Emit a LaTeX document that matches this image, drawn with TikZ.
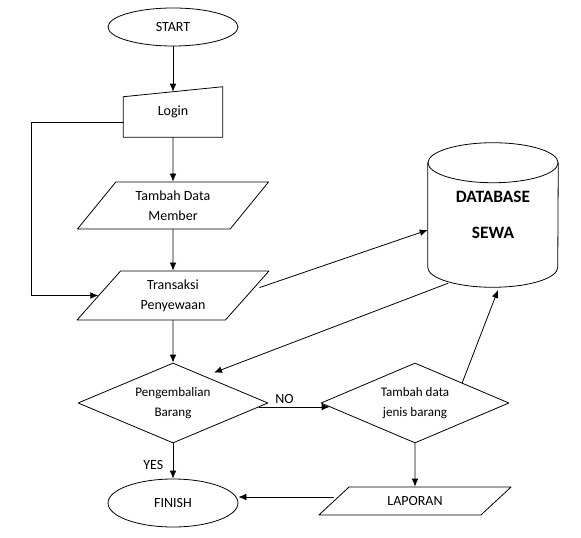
\documentclass[tikz,border=0pt]{standalone}
\usepackage{fontspec}
\setmainfont{Carlito}
\usetikzlibrary{arrows.meta,calc,shapes.geometric}

\begin{document}
\begin{tikzpicture}[>=Latex, line cap=round, line join=round, x=0.75pt, y=-0.75pt]

% ---------- styles ----------
\tikzset{
  fcTerm/.style     ={draw, ellipse, line width=0.6pt, minimum width=97.5pt,
                      font=\fontsize{10.5}{15}\selectfont},
  fcData/.style     ={draw, trapezium, trapezium left angle=50, trapezium right angle=130,
                      trapezium stretches=true, line width=0.6pt, minimum width=144.75pt,
                      inner sep=0pt, align=center, font=\fontsize{10.5}{15}\selectfont},
  fcDecision/.style ={draw, diamond, shape aspect=2.4, inner sep=0pt, line width=0.6pt,
                      minimum width=142.5pt, minimum height=60pt, align=center,
                      font=\fontsize{9.8}{15}\selectfont},
  fcFlow/.style     ={->, line width=0.6pt, >={Latex[length=6pt,width=5pt]}},
  fcLabel/.style    ={font=\fontsize{10.5}{12}\selectfont, inner sep=2pt}
}

\useasboundingbox (0,0) rectangle (581,538);

% ---------- terminals ----------
\node[fcTerm, minimum height=28.5pt] (start)  at (173,27)  {START};
\node[fcTerm, minimum height=36pt]   (finish) at (173,503) {FINISH};

% ---------- login (manual input) ----------
\node[minimum width=74.25pt, minimum height=37.5pt, inner sep=0pt,
      font=\fontsize{10.5}{15}\selectfont] (login) at (173,112) {Login};
\draw[line width=0.6pt]
  (login.south west) -- (login.south east) -- (login.north east)
  -- ([yshift=-7.5pt]login.north west) -- cycle;

% ---------- data ----------
\node[fcData, minimum height=35.25pt] (member) at (173,205.5) {Tambah Data\\Member};
\node[fcData, minimum height=36.75pt] (trans)  at (173,295.5) {Transaksi\\Penyewaan};
\node[fcData, trapezium left angle=36, trapezium right angle=144,
      minimum height=21pt] (laporan) at (415,501) {LAPORAN};

% ---------- decisions ----------
\node[fcDecision] (kembali) at (173,403) {Pengembalian\\Barang};
\node[fcDecision, minimum width=141pt] (tambah) at (415,403) {Tambah data\\jenis barang};

% ---------- database (cylinder) ----------
\node[minimum width=97.5pt, minimum height=108pt, inner sep=0pt, align=center,
      font=\fontsize{13}{28.5}\selectfont\bfseries] (db) at (493,215) {\raisebox{-2pt}{DATABASE}\\SEWA};
\draw[line width=0.6pt] ([yshift=-15pt]db.north) ellipse [x radius=48.75pt, y radius=15pt];
\draw[line width=0.6pt]
  ([yshift=-15pt]db.north west) -- ([yshift=15pt]db.south west)
  arc[start angle=180, end angle=360, x radius=48.75pt, y radius=15pt]
  -- ([yshift=-15pt]db.north east);

% ---------- flow ----------
\draw[fcFlow] (start.south) -- ([yshift=-3.75pt]login.north);
\draw[fcFlow] (login.south) -- (member.north);
\draw[fcFlow] (member.south) -- (trans.north);
\draw[fcFlow] ([yshift=-7.5pt]login.west) -- ++(-92,0) |- (trans.west);
\draw[fcFlow] (trans.south) -- (kembali.north);
\draw[fcFlow] ([xshift=9pt,yshift=6pt]trans.east) -- ([yshift=-11.25pt]db.west);
\draw[fcFlow] ([xshift=-33.75pt,yshift=3pt]db.south) -- ([xshift=30.75pt,yshift=-7.5pt]kembali.north);
\draw[fcFlow] ([xshift=-7pt,yshift=-3pt]kembali.east)
  -- node[fcLabel, pos=0.36, above] {NO} ([xshift=6.75pt,yshift=-3pt]tambah.west);
\draw[fcFlow] (kembali.south) -- node[fcLabel, pos=0.62, left=5pt] {YES} (finish.north);
\draw[fcFlow] (tambah.north east) -- ([xshift=3.75pt,yshift=-2pt]db.south);
\draw[fcFlow] (tambah.south) -- (laporan.north);
\draw[fcFlow] ([yshift=3pt]laporan.west) -- ([yshift=3pt]laporan.west -| finish.east);

\end{tikzpicture}
\end{document}
